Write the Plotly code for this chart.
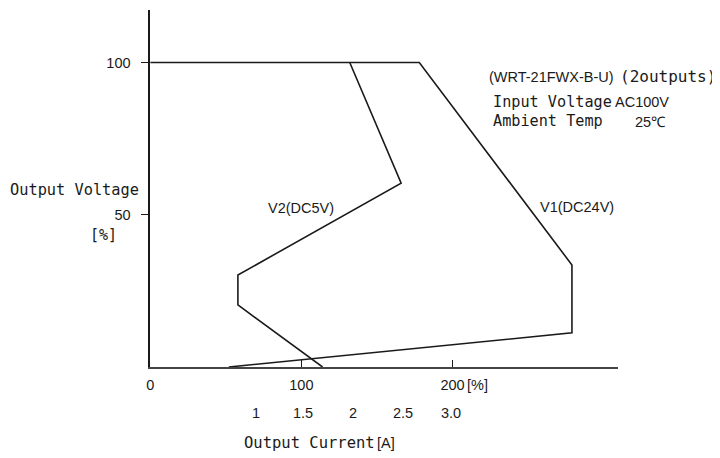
import plotly.graph_objects as go

# ---- data ----
v1_current = [0, 178, 279, 279, 52]          # % of rated current
v1_voltage = [100, 100, 33.5, 11.2, 0]       # % of rated voltage
v2_current = [132, 166, 58, 58, 114]
v2_voltage = [100, 60.4, 30.2, 20.4, 0]

x_tick_vals = [0, 100, 200]
x_tick_text = ["0", "100", "200"]
y_tick_vals = [50, 100]
y_tick_text = ["50", "100"]

amp_labels = ["1", "1.5", "2", "2.5", "3.0"]
amp_pos = [70, 101, 134, 167, 199]           # position on the % axis

# ---- pixel helpers for layout placement (page pixels of the reference) ----
W, H = 720, 458
OX, OY = 9, 8          # page offset of the figure (body margin)
X0, XS = 148, 1.52     # page pixel of x=0, px per %
Y0, YS = 367, 3.045    # page pixel of y=0, px per %
X_RIGHT, Y_TOP = 618, 10


def px(p):
    return (p - OX) / W


def py(p):
    return 1 - (p - OY) / H


SANS = "Liberation Sans, Arial, sans-serif"
MONO = "DejaVu Sans Mono, monospace"
INK = "#1a1a1a"

fig = go.Figure()
fig.add_trace(go.Scatter(x=v1_current, y=v1_voltage, mode="lines",
                         line=dict(color=INK, width=1.6), cliponaxis=False,
                         showlegend=False, hoverinfo="skip"))
fig.add_trace(go.Scatter(x=v2_current, y=v2_voltage, mode="lines",
                         line=dict(color=INK, width=1.6), cliponaxis=False,
                         showlegend=False, hoverinfo="skip"))

ann = []


def add(text, xp, yp, font, size, xanchor="left"):
    ann.append(dict(text=text, x=px(xp), y=py(yp), xref="paper", yref="paper",
                    xanchor=xanchor, yanchor="middle", showarrow=False,
                    borderpad=0, font=dict(family=font, size=size, color=INK)))


# series labels
add("V2(DC5V)", 300, 208, SANS, 14.5, "center")
add("V1(DC24V)", 577, 207, SANS, 14.5, "center")

# info block
add("(WRT-21FWX-B-U)", 488, 77, SANS, 14.5)
add("(2outputs)", 619, 77, MONO, 16)
add("Input Voltage", 492, 102, MONO, 15.2)
add("AC100V", 614, 102, SANS, 14.5)
add("Ambient Temp", 492, 121, MONO, 15.2)
add("25℃", 634, 122, SANS, 14.5)

# axis titles
add("Output Voltage", 138, 190, MONO, 15.3, "right")
add("[%]", 101, 235, MONO, 15, "center")
add("[%]", 466, 385, SANS, 14.5)
add("Output Current", 241, 443, MONO, 15.5)
add("[A]", 375, 443, SANS, 14.5)

# current scale (A), placed on the % axis
for lab, pos in zip(amp_labels, amp_pos):
    add(lab, X0 + pos * XS, 413, SANS, 14.5, "center")

fig.update_layout(
    width=W, height=H,
    margin=dict(l=0, r=0, t=0, b=0),
    paper_bgcolor="white", plot_bgcolor="white",
    showlegend=False,
    annotations=ann,
    xaxis=dict(
        domain=[px(X0), px(X_RIGHT)],
        range=[0, (X_RIGHT - X0) / XS],
        showgrid=False, zeroline=False,
        showline=True, linecolor="#444", linewidth=1.8,
        ticks="inside", ticklen=7, tickcolor=INK, tickwidth=1.2,
        tickvals=x_tick_vals, ticktext=x_tick_text,
        tickfont=dict(family=SANS, size=14.5, color=INK),
        ticklabelstandoff=4,
    ),
    yaxis=dict(
        domain=[py(Y0), py(Y_TOP)],
        range=[0, (Y0 - Y_TOP) / YS],
        showgrid=False, zeroline=False,
        showline=True, linecolor=INK, linewidth=1.6,
        ticks="outside", ticklen=7, tickcolor=INK, tickwidth=1.2,
        tickvals=y_tick_vals, ticktext=y_tick_text,
        tickfont=dict(family=SANS, size=14.5, color=INK),
        ticklabelstandoff=8,
    ),
)

fig.write_html("out.html")
